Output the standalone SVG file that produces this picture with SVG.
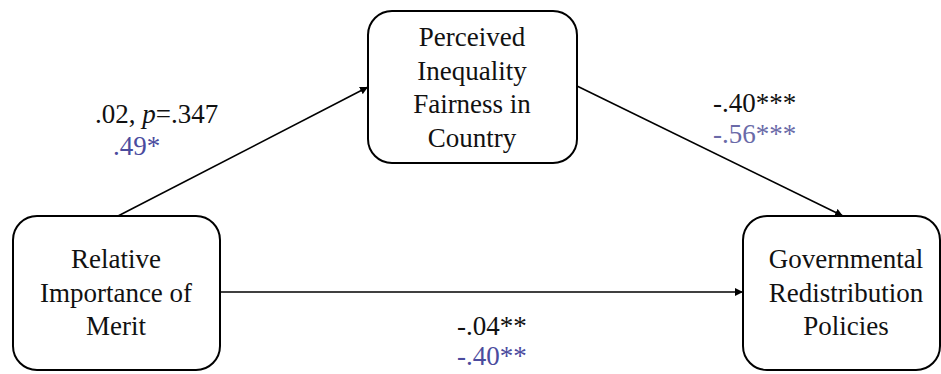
<svg xmlns="http://www.w3.org/2000/svg" width="941" height="374" viewBox="0 0 941 374">
<style>
.box{fill:#fff;stroke:#000;stroke-width:2}
text{font-family:'Liberation Serif','Times New Roman',serif;font-size:27px;fill:#111}
.c{text-anchor:middle}
.b{fill:#4b4b9e}
.g{fill:#6a6aa8}
.ln{stroke:#000;stroke-width:1.6;fill:none}
</style>
<defs>
<marker id="ah" viewBox="0 0 10 10" refX="10" refY="5" markerWidth="8" markerHeight="8" markerUnits="userSpaceOnUse" orient="auto">
<path d="M0,0 L10,5 L0,10 z" fill="#000"/>
</marker>
</defs>
<rect width="941" height="374" fill="#fff"/>
<g id="connectors">
<line class="ln" x1="118" y1="216" x2="368" y2="87" marker-end="url(#ah)"/>
<line class="ln" x1="577" y1="86" x2="843" y2="216" marker-end="url(#ah)"/>
<line class="ln" x1="220" y1="292" x2="743" y2="292" marker-end="url(#ah)"/>
</g>
<g id="node-perceived">
<rect class="box" x="368" y="11" width="209" height="152" rx="24"/>
<text class="c" x="472" y="46">Perceived</text>
<text class="c" x="472" y="80">Inequality</text>
<text class="c" x="472" y="113">Fairness in</text>
<text class="c" x="472" y="147">Country</text>
</g>
<g id="node-merit">
<rect class="box" x="13" y="216" width="207" height="154" rx="24"/>
<text class="c" x="116" y="268">Relative</text>
<text class="c" x="116" y="302">Importance of</text>
<text class="c" x="116" y="335">Merit</text>
</g>
<g id="node-policies">
<rect class="box" x="743" y="216" width="197" height="154" rx="24"/>
<text class="c" x="846" y="268">Governmental</text>
<text class="c" x="846" y="302">Redistribution</text>
<text class="c" x="846" y="335">Policies</text>
</g>
<g id="labels">
<text x="95" y="123">.02, <tspan font-style="italic">p</tspan>=.347</text>
<text class="b" x="113" y="155">.49*</text>
<text x="713" y="112">-.40***</text>
<text class="g" x="713" y="143">-.56***</text>
<text x="457" y="335">-.04**</text>
<text class="b" x="457" y="365">-.40**</text>
</g>
</svg>
